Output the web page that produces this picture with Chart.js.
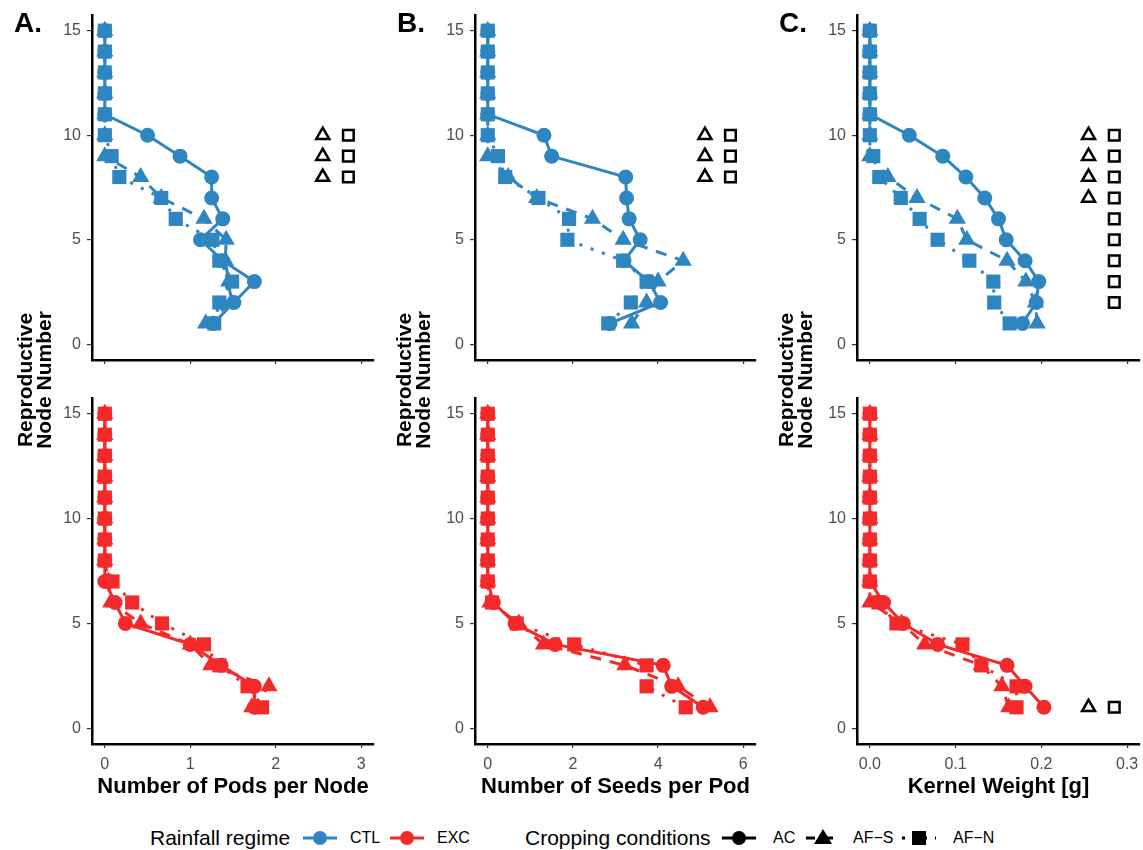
<!DOCTYPE html>
<html>
<head>
<meta charset="utf-8">
<script src="https://cdn.jsdelivr.net/npm/chart.js@4.4.1/dist/chart.umd.min.js"></script>
<style>
  body { margin: 0; background: #fff; font-family: "Liberation Sans", Arial, sans-serif; }
  #page { position: relative; width: 1143px; height: 850px; overflow: hidden; }
  canvas { position: absolute; }
  .tag { position: absolute; font-weight: bold; font-size: 28px; line-height: 28px; color: #000; }
  .ytitle { position: absolute; width: 200px; height: 38px; font-weight: bold; font-size: 21px; line-height: 19px;
            text-align: center; color: #000; transform: rotate(-90deg); }
  .leg { position: absolute; top: 828px; line-height: 20px; font-size: 16px; color: #000; white-space: nowrap; }
  .leg.ttl { font-size: 21px; }
  .key { position: absolute; top: 828px; }
</style>
</head>
<body>
<div id="page">
  <canvas id="a1" width="342" height="370" style="left:40px;top:0px"></canvas>
  <canvas id="a2" width="342" height="427" style="left:40px;top:383px"></canvas>
  <canvas id="b1" width="341" height="370" style="left:423px;top:0px"></canvas>
  <canvas id="b2" width="341" height="427" style="left:423px;top:383px"></canvas>
  <canvas id="c1" width="338" height="370" style="left:805px;top:0px"></canvas>
  <canvas id="c2" width="338" height="427" style="left:805px;top:383px"></canvas>

  <div class="tag" style="left:14px;top:9px">A.</div>
  <div class="tag" style="left:397px;top:9px">B.</div>
  <div class="tag" style="left:779px;top:9px">C.</div>

  <div class="ytitle" style="left:-66px;top:361px">Reproductive<br>Node Number</div>
  <div class="ytitle" style="left:313px;top:361px">Reproductive<br>Node Number</div>
  <div class="ytitle" style="left:695px;top:361px">Reproductive<br>Node Number</div>

  <div class="leg ttl" style="left:150px">Rainfall regime</div>
  <svg class="key" style="left:303px" width="34" height="20"><line x1="0" y1="10" x2="34" y2="10" stroke="#2E86C1" stroke-width="3"/><circle cx="17" cy="10" r="7" fill="#2E86C1"/></svg>
  <div class="leg" style="left:350px">CTL</div>
  <svg class="key" style="left:390px" width="34" height="20"><line x1="0" y1="10" x2="34" y2="10" stroke="#F42A2A" stroke-width="3"/><circle cx="17" cy="10" r="7" fill="#F42A2A"/></svg>
  <div class="leg" style="left:437px">EXC</div>
  <div class="leg ttl" style="left:525px">Cropping conditions</div>
  <svg class="key" style="left:722px" width="34" height="20"><line x1="0" y1="10" x2="34" y2="10" stroke="#000" stroke-width="3"/><circle cx="17" cy="10" r="7" fill="#000"/></svg>
  <div class="leg" style="left:773px">AC</div>
  <svg class="key" style="left:806px" width="34" height="20"><line x1="0" y1="10" x2="34" y2="10" stroke="#000" stroke-width="3" stroke-dasharray="9 9"/><polygon points="17,1 26,16 8,16" fill="#000"/></svg>
  <div class="leg" style="left:853px">AF−S</div>
  <svg class="key" style="left:902px" width="34" height="20"><line x1="0" y1="10" x2="34" y2="10" stroke="#000" stroke-width="3" stroke-dasharray="3 8"/><rect x="10" y="3" width="14" height="14" fill="#000"/></svg>
  <div class="leg" style="left:953px">AF−N</div>
</div>

<script>
const nodes = [1, 2, 3, 4, 5, 6, 7, 8, 9, 10, 11, 12, 13, 14, 15];

// values per node, node 1 first
const podsCtlAC  = [1.27, 1.51, 1.75, 1.38, 1.12, 1.38, 1.25, 1.25, 0.88, 0.50, 0, 0, 0, 0, 0];
const podsCtlAFS = [1.18, 1.48, 1.45, 1.41, 1.42, 1.16, 0.66, 0.42, 0.00, 0, 0, 0, 0, 0, 0];
const podsCtlAFN = [1.28, 1.34, 1.49, 1.34, 1.26, 0.83, 0.66, 0.17, 0.08, 0, 0, 0, 0, 0, 0];
const podsExcAC  = [1.75, 1.75, 1.36, 1.00, 0.24, 0.12, 0.00, 0, 0, 0, 0, 0, 0, 0, 0];
const podsExcAFS = [1.72, 1.92, 1.24, 1.00, 0.42, 0.07, 0.04, 0, 0, 0, 0, 0, 0, 0, 0];
const podsExcAFN = [1.84, 1.67, 1.34, 1.16, 0.67, 0.32, 0.09, 0, 0, 0, 0, 0, 0, 0, 0];

const seedsCtlAC  = [2.87, 4.06, 3.78, 3.20, 3.58, 3.32, 3.26, 3.24, 1.50, 1.32, 0, 0, 0, 0, 0];
const seedsCtlAFS = [3.38, 3.73, 4.00, 4.59, 3.18, 2.46, 1.15, 0.48, 0.00, 0, 0, 0, 0, 0, 0];
const seedsCtlAFN = [2.83, 3.36, 3.73, 3.18, 1.87, 1.91, 1.19, 0.41, 0.24, 0, 0, 0, 0, 0, 0];
const seedsExcAC  = [5.06, 4.32, 4.12, 1.58, 0.64, 0.13, 0, 0, 0, 0, 0, 0, 0, 0, 0];
const seedsExcAFS = [5.22, 4.47, 3.22, 1.31, 0.73, 0.05, 0, 0, 0, 0, 0, 0, 0, 0, 0];
const seedsExcAFN = [4.65, 3.73, 3.73, 2.03, 0.68, 0.10, 0, 0, 0, 0, 0, 0, 0, 0, 0];

const kernelCtlAC  = [0.178, 0.194, 0.197, 0.181, 0.159, 0.150, 0.134, 0.112, 0.085, 0.046, 0, 0, 0, 0, 0];
const kernelCtlAFS = [0.195, 0.193, 0.182, 0.160, 0.113, 0.102, 0.055, 0.021, 0.000, 0, 0, 0, 0, 0, 0];
const kernelCtlAFN = [0.163, 0.145, 0.144, 0.116, 0.079, 0.058, 0.036, 0.011, 0.004, 0, 0, 0, 0, 0, 0];
const kernelExcAC  = [0.203, 0.181, 0.160, 0.079, 0.039, 0.016, 0, 0, 0, 0, 0, 0, 0, 0, 0];
const kernelExcAFS = [0.162, 0.154, 0.130, 0.064, 0.037, 0.000, 0, 0, 0, 0, 0, 0, 0, 0, 0];
const kernelExcAFN = [0.171, 0.171, 0.130, 0.108, 0.031, 0.010, 0, 0, 0, 0, 0, 0, 0, 0, 0];

// open markers: nodes with a triangle / a square, and their x positions
const podsCtlTri = [10, 9, 8];
const podsCtlSq = [10, 9, 8];
const podsMarkX = [2.55, 2.85];
const seedsCtlTri = [10, 9, 8];
const seedsCtlSq = [10, 9, 8];
const seedsMarkX = [5.1, 5.7];
const kernelCtlTri = [10, 9, 8, 7];
const kernelCtlSq = [10, 9, 8, 7, 6, 5, 4, 3, 2];
const kernelExcTri = [1];
const kernelExcSq = [1];
const kernelMarkX = [0.255, 0.285];

const nodeTicks = [0, 5, 10, 15];
const podsTicks = [0, 1, 2, 3];
const seedsTicks = [0, 2, 4, 6];
const kernelTicks = [0, 0.1, 0.2, 0.3];

const blue = "#2E86C1";
const red = "#F42A2A";
const font = "Liberation Sans";
const dashes = [[], [11, 9], [3, 9]];
const shapes = ["circle", "triangle", "rect"];
const radii = [7.5, 10, 10];

function pts(xs) {
  return xs.map((x, i) => ({ x: x, y: nodes[i] }));
}

function marks(ns, x, style) {
  return {
    data: ns.map(n => ({ x: x, y: n })),
    showLine: false, pointStyle: style, pointRadius: 7.5,
    pointBackgroundColor: "#fff", pointBorderColor: "#000", pointBorderWidth: 2.5,
    order: 0, clip: false
  };
}

// keep the chart area fixed: no label overhang padding
function noPad(s) {
  s.paddingTop = 0;
  s.paddingBottom = 0;
  s.paddingLeft = 0;
  s.paddingRight = 0;
}

function drawPanel(id, series, color, xr, xTicks, fmt, tri, sq, markX, bottom, xTitle, padR) {
  const datasets = [];
  series.forEach((xs, k) => datasets.push({
    data: pts(xs), showLine: true, borderColor: color, borderWidth: 3, borderDash: dashes[k],
    pointRadius: 0, order: 10, clip: false
  }));
  series.forEach((xs, k) => datasets.push({
    data: pts(xs), showLine: false, pointStyle: shapes[k], pointRadius: radii[k],
    pointBackgroundColor: color, pointBorderWidth: 0, order: 3 - k, clip: false
  }));
  if (tri) datasets.push(marks(tri, markX[0], "triangle"));
  if (sq) datasets.push(marks(sq, markX[1], "rect"));

  new Chart(document.getElementById(id), {
    type: "scatter",
    data: { datasets: datasets },
    options: {
      responsive: false,
      animation: false,
      events: [],
      layout: { autoPadding: false, padding: { top: 15, right: padR, left: 0, bottom: 0 } },
      plugins: { legend: { display: false }, tooltip: { enabled: false } },
      scales: {
        x: {
          type: "linear", min: xr[0], max: xr[1],
          afterBuildTicks: s => { s.ticks = xTicks.map(v => ({ value: v })); },
          afterFit: s => { s.height = bottom ? 66 : 10; noPad(s); },
          grid: { display: true, drawOnChartArea: false, drawTicks: true, tickLength: 4, color: "#333", lineWidth: 1.2 },
          border: { display: true, color: "#000", width: 2.5 },
          ticks: { display: bottom, color: "#4D4D4D", font: { family: font, size: 16 }, padding: 7,
                   maxRotation: 0, autoSkip: false, callback: fmt },
          title: { display: bottom, text: xTitle, color: "#000",
                   font: { family: font, size: 22, weight: "bold" }, padding: { top: 0, bottom: 10 } }
        },
        y: {
          type: "linear", min: -0.75, max: 15.75,
          afterBuildTicks: s => { s.ticks = nodeTicks.map(v => ({ value: v })); },
          afterFit: s => { s.width = 52; noPad(s); },
          grid: { display: true, drawOnChartArea: false, drawTicks: true, tickLength: 5, color: "#333", lineWidth: 1.2 },
          border: { display: true, color: "#000", width: 2.5 },
          ticks: { color: "#4D4D4D", font: { family: font, size: 16 }, padding: 6, autoSkip: false,
                   callback: v => v }
        }
      }
    }
  });
}

const plain = v => v;
const oneDec = v => v.toFixed(1);

drawPanel("a1", [podsCtlAC, podsCtlAFS, podsCtlAFN], blue, [-0.15, 3.15], podsTicks, plain,
          podsCtlTri, podsCtlSq, podsMarkX, false, "", 8);
drawPanel("a2", [podsExcAC, podsExcAFS, podsExcAFN], red, [-0.15, 3.15], podsTicks, plain,
          null, null, podsMarkX, true, "Number of Pods per Node", 8);
drawPanel("b1", [seedsCtlAC, seedsCtlAFS, seedsCtlAFN], blue, [-0.3, 6.3], seedsTicks, plain,
          seedsCtlTri, seedsCtlSq, seedsMarkX, false, "", 8);
drawPanel("b2", [seedsExcAC, seedsExcAFS, seedsExcAFN], red, [-0.3, 6.3], seedsTicks, plain,
          null, null, seedsMarkX, true, "Number of Seeds per Pod", 8);
drawPanel("c1", [kernelCtlAC, kernelCtlAFS, kernelCtlAFN], blue, [-0.015, 0.315], kernelTicks, oneDec,
          kernelCtlTri, kernelCtlSq, kernelMarkX, false, "", 3);
drawPanel("c2", [kernelExcAC, kernelExcAFS, kernelExcAFN], red, [-0.015, 0.315], kernelTicks, oneDec,
          kernelExcTri, kernelExcSq, kernelMarkX, true, "Kernel Weight [g]", 3);
</script>
</body>
</html>
